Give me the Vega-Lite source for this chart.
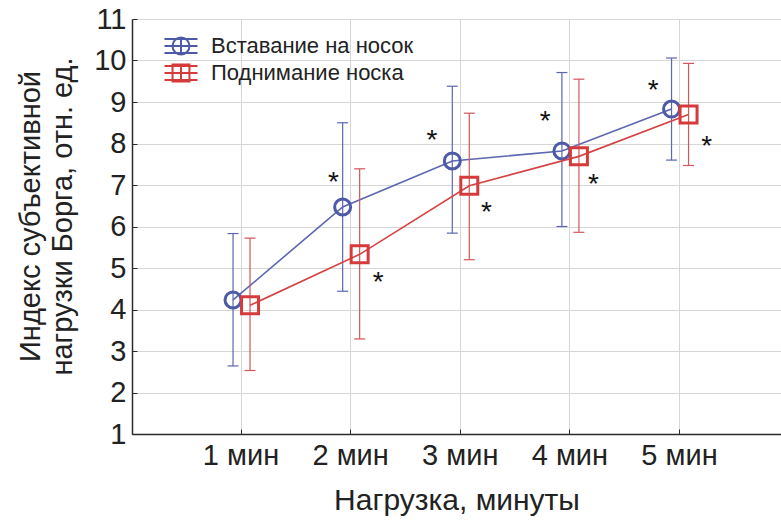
{
  "$schema": "https://vega.github.io/schema/vega-lite/v6.json",
  "width": 649,
  "height": 415,
  "autosize": {"type": "none"},
  "padding": {"left": 132, "top": 19, "right": 0, "bottom": 87},
  "background": "white",
  "config": {
    "view": {"stroke": "transparent"},
    "font": "Liberation Sans",
    "text": {"font": "Liberation Sans"}
  },
  "datasets": {
    "stats": [
      {"series": "Вставание на носок", "t": 1, "mean": 4.23, "lo": 2.64, "hi": 5.83},
      {"series": "Вставание на носок", "t": 2, "mean": 6.47, "lo": 4.44, "hi": 8.5},
      {"series": "Вставание на носок", "t": 3, "mean": 7.58, "lo": 5.84, "hi": 9.38},
      {"series": "Вставание на носок", "t": 4, "mean": 7.82, "lo": 6.0, "hi": 9.71},
      {"series": "Вставание на носок", "t": 5, "mean": 8.83, "lo": 7.6, "hi": 10.06},
      {"series": "Поднимание носка", "t": 1, "mean": 4.1, "lo": 2.53, "hi": 5.72},
      {"series": "Поднимание носка", "t": 2, "mean": 5.33, "lo": 3.29, "hi": 7.39},
      {"series": "Поднимание носка", "t": 3, "mean": 6.98, "lo": 5.2, "hi": 8.73},
      {"series": "Поднимание носка", "t": 4, "mean": 7.69, "lo": 5.86, "hi": 9.55},
      {"series": "Поднимание носка", "t": 5, "mean": 8.7, "lo": 7.47, "hi": 9.93}
    ],
    "stars": [
      {"t": 1.848, "y": 7.06},
      {"t": 2.255, "y": 4.65},
      {"t": 2.747, "y": 8.07},
      {"t": 3.244, "y": 6.32},
      {"t": 3.778, "y": 8.51},
      {"t": 4.219, "y": 7.01},
      {"t": 4.765, "y": 9.26},
      {"t": 5.253, "y": 7.91}
    ]
  },
  "data": {"name": "stats"},
  "encoding": {
    "x": {
      "field": "t",
      "type": "quantitative",
      "scale": {"domain": [0.01, 5.93], "nice": false, "zero": false},
      "axis": {
        "values": [1, 2, 3, 4, 5],
        "labelExpr": "datum.value + ' мин'",
        "title": "Нагрузка, минуты",
        "grid": true,
        "gridColor": "#d6d6d6",
        "domainColor": "#2b2b2b",
        "domainWidth": 1.5,
        "tickColor": "#2b2b2b",
        "tickSize": -5,
        "labelFont": "Liberation Sans",
        "labelFontSize": 29,
        "labelColor": "#222222",
        "labelPadding": 12,
        "titleFont": "Liberation Sans",
        "titleFontSize": 30,
        "titleFontWeight": "normal",
        "titleColor": "#222222",
        "titleBaseline": "middle",
        "titleY": 66
      }
    },
    "y": {
      "field": "mean",
      "type": "quantitative",
      "scale": {"domain": [1, 11], "nice": false, "zero": false},
      "axis": {
        "values": [1, 2, 3, 4, 5, 6, 7, 8, 9, 10, 11],
        "title": ["Индекс субъективной", "нагрузки Борга, отн. ед."],
        "grid": true,
        "gridColor": "#d6d6d6",
        "domainColor": "#2b2b2b",
        "domainWidth": 1.5,
        "tickColor": "#2b2b2b",
        "tickSize": -5,
        "labelFont": "Liberation Sans",
        "labelFontSize": 29,
        "labelColor": "#222222",
        "labelPadding": 11,
        "titleFont": "Liberation Sans",
        "titleFontSize": 29,
        "titleFontWeight": "normal",
        "titleColor": "#222222",
        "titleBaseline": "middle",
        "titleLineHeight": 32,
        "titleX": -102,
        "titleY": 197
      }
    }
  },
  "layer": [
    {
      "data": {"values": [{}]},
      "mark": {"type": "rule", "color": "#2b2b2b", "strokeWidth": 1.5},
      "encoding": {
        "x": {"datum": 0.01, "type": "quantitative"},
        "x2": {"datum": 5.93},
        "y": {"datum": 11, "type": "quantitative"}
      }
    },
    {
      "transform": [{"filter": "datum.series === 'Вставание на носок'"}],
      "layer": [
        {
          "mark": {"type": "rule", "xOffset": -7.5, "color": "#5b67b1", "strokeWidth": 1.2},
          "encoding": {"y": {"field": "lo", "type": "quantitative"}, "y2": {"field": "hi"}}
        },
        {
          "mark": {"type": "tick", "orient": "horizontal", "xOffset": -7.5, "color": "#5b67b1", "thickness": 1.2, "size": 11, "opacity": 1},
          "encoding": {"y": {"field": "hi", "type": "quantitative"}}
        },
        {
          "mark": {"type": "tick", "orient": "horizontal", "xOffset": -7.5, "color": "#5b67b1", "thickness": 1.2, "size": 11, "opacity": 1},
          "encoding": {"y": {"field": "lo", "type": "quantitative"}}
        },
        {
          "mark": {"type": "line", "xOffset": -7.5, "color": "#5b67b1", "strokeWidth": 1.6}
        },
        {
          "mark": {"type": "point", "shape": "circle", "filled": false, "size": 256, "strokeWidth": 3, "color": "#4c5aa8", "opacity": 1, "xOffset": -7.5}
        }
      ]
    },
    {
      "transform": [{"filter": "datum.series === 'Поднимание носка'"}],
      "layer": [
        {
          "mark": {"type": "rule", "xOffset": 9.5, "color": "#d2555a", "strokeWidth": 1.2},
          "encoding": {"y": {"field": "lo", "type": "quantitative"}, "y2": {"field": "hi"}}
        },
        {
          "mark": {"type": "tick", "orient": "horizontal", "xOffset": 9.5, "color": "#d2555a", "thickness": 1.2, "size": 11, "opacity": 1},
          "encoding": {"y": {"field": "hi", "type": "quantitative"}}
        },
        {
          "mark": {"type": "tick", "orient": "horizontal", "xOffset": 9.5, "color": "#d2555a", "thickness": 1.2, "size": 11, "opacity": 1},
          "encoding": {"y": {"field": "lo", "type": "quantitative"}}
        },
        {
          "mark": {"type": "line", "xOffset": 9.5, "color": "#d54343", "strokeWidth": 1.6}
        },
        {
          "mark": {"type": "point", "shape": "square", "filled": false, "size": 289, "strokeWidth": 3, "color": "#d63b3b", "opacity": 1, "xOffset": 9.5}
        }
      ]
    },
    {
      "data": {"name": "stars"},
      "mark": {"type": "text", "text": "*", "fontSize": 28, "color": "#111111", "align": "center", "baseline": "middle"},
      "encoding": {"y": {"field": "y", "type": "quantitative"}}
    },
    {
      "data": {"values": []},
      "mark": {"type": "point", "filled": false, "strokeWidth": 2, "opacity": 1},
      "encoding": {
        "color": {
          "field": "series",
          "type": "nominal",
          "scale": {"domain": ["Вставание на носок", "Поднимание носка"], "range": ["#4c5aa8", "#d63b3b"]},
          "legend": {
            "title": null,
            "orient": "none",
            "legendX": 35,
            "legendY": 13,
            "padding": 0,
            "labelFont": "Liberation Sans",
            "labelFontSize": 22,
            "labelColor": "#222222",
            "labelLimit": 400,
            "labelOffset": 16,
            "symbolSize": 676,
            "symbolStrokeWidth": 2,
            "rowPadding": 0
          }
        },
        "shape": {
          "field": "series",
          "type": "nominal",
          "scale": {
            "domain": ["Вставание на носок", "Поднимание носка"],
            "range": [
              "M0.65,0A0.65,0.65,0,1,1,-0.65,0A0.65,0.65,0,1,1,0.65,0Z M-1.27,0H1.27 M0,-0.54V0.54 M-1.27,-0.54H1.27 M-1.27,0.54H1.27",
              "M-0.65,-0.65H0.65V0.65H-0.65Z M-1.27,0H1.27 M0,-0.54V0.54 M-1.27,-0.54H1.27 M-1.27,0.54H1.27"
            ]
          }
        }
      }
    }
  ]
}
